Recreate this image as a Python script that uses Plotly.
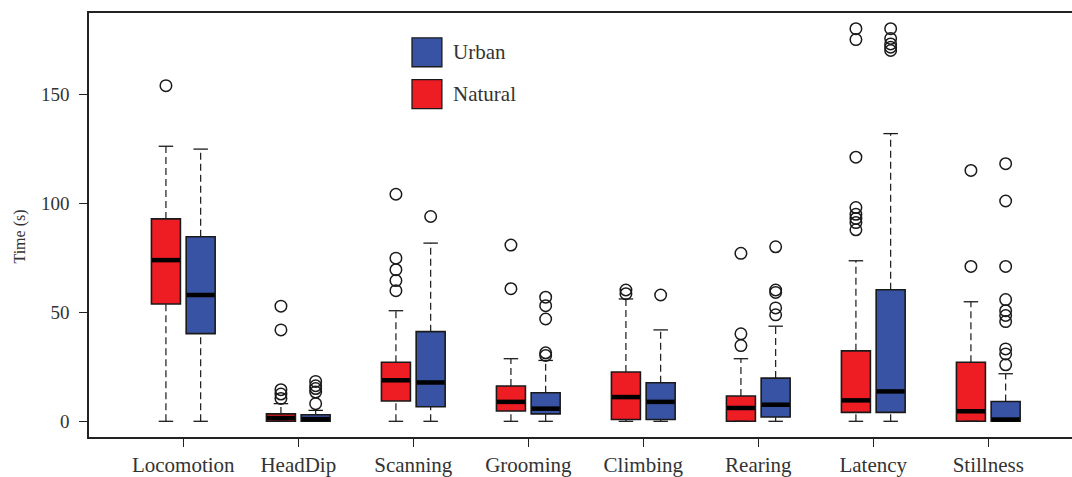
import plotly.graph_objects as go

categories = ["Locomotion", "HeadDip", "Scanning", "Grooming", "Climbing", "Rearing", "Latency", "Stillness"]

natural_lower = [0, 0, 0, 0, 0, 0, 0, 0]
natural_q1 = [53.8, 0, 9.3, 4.7, 0.8, 0, 4.1, 0]
natural_median = [73.9, 1.5, 18.8, 8.9, 11.1, 6.1, 9.6, 4.6]
natural_q3 = [92.8, 3.4, 27.1, 16.2, 22.6, 11.6, 32.3, 27.1]
natural_upper = [126.1, 8.1, 50.7, 28.7, 56.1, 28.7, 73.6, 54.8]
natural_outliers = [
    [153.9],
    [52.8, 41.9, 14.5, 12.5, 10.5],
    [104.1, 74.8, 69.5, 64.5, 59.9],
    [80.8, 60.8],
    [60.2, 58.5],
    [77.0, 40.1, 34.7],
    [180.0, 175.0, 121.1, 98.0, 94.9, 93.0, 91.1, 87.8],
    [115.0, 71.0],
]

urban_lower = [0, 0, 0, 0, 0, 0, 0, 0]
urban_q1 = [40.2, 0, 6.7, 3.4, 0.8, 2.0, 4.1, 0]
urban_median = [57.9, 1.0, 17.8, 5.8, 8.9, 7.6, 13.7, 0.8]
urban_q3 = [84.6, 3.0, 41.1, 13.1, 17.7, 19.8, 60.3, 9.1]
urban_upper = [124.8, 5.0, 81.7, 27.9, 41.9, 43.6, 131.9, 21.8]
urban_outliers = [
    [],
    [18.3, 16.3, 15.0, 13.4, 8.1],
    [93.9],
    [56.9, 53.0, 46.9, 31.4, 30.2],
    [57.9],
    [80.0, 60.2, 59.1, 52.0, 48.8],
    [180.0, 175.5, 173.0, 171.5, 170.0],
    [118.1, 101.0, 71.0, 55.8, 50.7, 48.5, 45.7, 33.2, 30.9, 25.9],
]

y_ticks = [0, 50, 100, 150]

RED = "#EE1D24"
BLUE = "#3953A4"
FONT = "Liberation Serif"
TXT = "#333333"

BOX_W = 0.252
OFFSET = 0.151
CAP_W = BOX_W / 2

fig = go.Figure()


def add_group(offset, lower, q1, med, q3, upper, outliers, color):
    xs = [i + offset for i in range(len(categories))]
    # boxes
    fig.add_trace(go.Bar(
        x=xs, y=[b - a for a, b in zip(q1, q3)], base=q1, width=BOX_W,
        marker=dict(color=color, line=dict(color="#1a1a1a", width=1.6)),
        showlegend=False, hoverinfo="skip"))
    # whiskers
    wx, wy = [], []
    for x, lo, a, b, hi in zip(xs, lower, q1, q3, upper):
        wx += [x, x, None, x, x, None]
        wy += [lo, a, None, b, hi, None]
    fig.add_trace(go.Scatter(x=wx, y=wy, mode="lines",
                             line=dict(color="#1a1a1a", width=1.2, dash="7px,4px"),
                             showlegend=False, hoverinfo="skip"))
    # caps
    cx, cy = [], []
    for x, lo, hi in zip(xs, lower, upper):
        cx += [x - CAP_W / 2, x + CAP_W / 2, None, x - CAP_W / 2, x + CAP_W / 2, None]
        cy += [lo, lo, None, hi, hi, None]
    fig.add_trace(go.Scatter(x=cx, y=cy, mode="lines",
                             line=dict(color="#1a1a1a", width=1.3),
                             showlegend=False, hoverinfo="skip"))
    # medians
    mx, my = [], []
    for x, m in zip(xs, med):
        mx += [x - BOX_W / 2 + 0.004, x + BOX_W / 2 - 0.004, None]
        my += [m, m, None]
    fig.add_trace(go.Scatter(x=mx, y=my, mode="lines",
                             line=dict(color="black", width=4.5),
                             showlegend=False, hoverinfo="skip"))
    # outliers
    ox, oy = [], []
    for x, outs in zip(xs, outliers):
        for o in outs:
            ox.append(x)
            oy.append(o)
    fig.add_trace(go.Scatter(x=ox, y=oy, mode="markers",
                             marker=dict(symbol="circle-open", size=11.5,
                                         color="#1a1a1a", line=dict(width=1.5)),
                             showlegend=False, hoverinfo="skip"))


add_group(-OFFSET, natural_lower, natural_q1, natural_median, natural_q3,
          natural_upper, natural_outliers, RED)
add_group(OFFSET, urban_lower, urban_q1, urban_median, urban_q3,
          urban_upper, urban_outliers, BLUE)

# legend drawn manually (large squares like R legend)
legend_items = [("Urban", BLUE), ("Natural", RED)]
for i, (name, col) in enumerate(legend_items):
    y_top = 0.9413 - i * 0.0986
    fig.add_shape(type="rect", xref="paper", yref="paper",
                  x0=0.3286, x1=0.3590, y0=y_top - 0.0681, y1=y_top,
                  fillcolor=col, line=dict(color="#1a1a1a", width=1.3))
    fig.add_annotation(xref="paper", yref="paper", x=0.368, y=y_top - 0.034,
                       text=name, showarrow=False, xanchor="left", yanchor="middle",
                       font=dict(family=FONT, size=21, color=TXT))

fig.add_annotation(xref="paper", yref="paper", x=-0.0705, y=0.472,
                   text="Time (s)", textangle=-90, showarrow=False,
                   xanchor="center", yanchor="middle",
                   font=dict(family=FONT, size=16, color=TXT))

fig.update_layout(
    width=1072, height=477,
    margin=dict(l=89, r=0, t=13, b=38),
    plot_bgcolor="white", paper_bgcolor="white",
    barmode="overlay", showlegend=False,
    font=dict(family=FONT, color=TXT),
)
fig.update_xaxes(
    range=[-0.82, 7.728], tickvals=list(range(len(categories))), ticktext=categories,
    showgrid=False, zeroline=False, showline=True, linecolor="#222222", linewidth=1.5,
    mirror=True, ticks="outside", ticklen=8, tickwidth=1.3, tickcolor="#222222",
    tickfont=dict(family=FONT, size=21, color=TXT),
)
fig.update_yaxes(
    range=[-7.2, 187.2], tickvals=y_ticks, ticktext=[str(v) for v in y_ticks],
    showgrid=False, zeroline=False, showline=True, linecolor="#222222", linewidth=1.5,
    ticks="outside", ticklen=8, tickwidth=1.3, tickcolor="#222222",
    tickfont=dict(family=FONT, size=19, color=TXT), ticklabelstandoff=6,
)

fig.write_html("out.html", config={"displayModeBar": False},
               post_script="document.body.style.margin='0';document.body.style.padding='0';")
